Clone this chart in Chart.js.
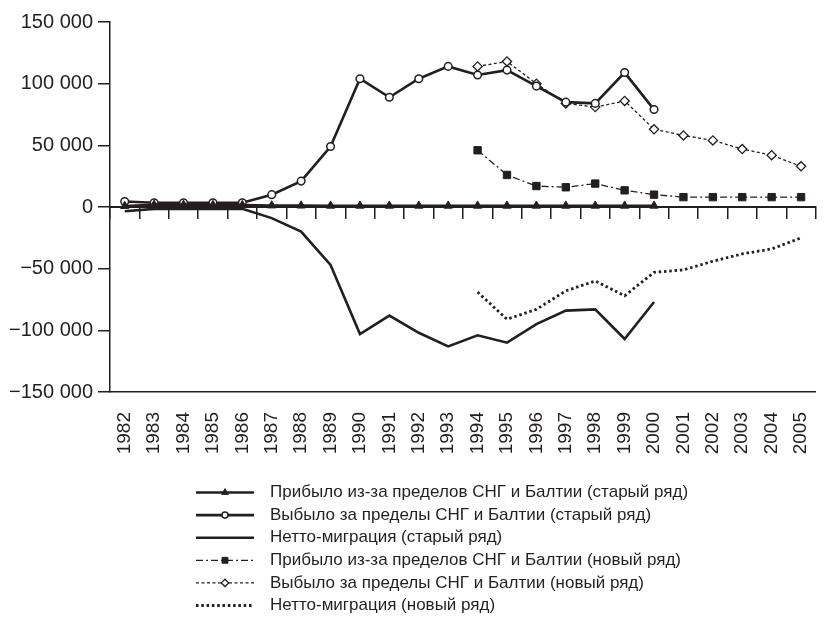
<!DOCTYPE html>
<html>
<head>
<meta charset="utf-8">
<script src="https://cdn.jsdelivr.net/npm/chart.js@4.4.1/dist/chart.umd.min.js"></script>
<style>
    body { margin: 0; background: #fff; }
    #wrap { width: 836px; height: 636px; }
</style>
</head>
<body>
<div id="wrap"><canvas id="migrationChart"></canvas></div>
<script>
const years = ['1982', '1983', '1984', '1985', '1986', '1987', '1988', '1989', '1990', '1991', '1992', '1993',
    '1994', '1995', '1996', '1997', '1998', '1999', '2000', '2001', '2002', '2003', '2004', '2005'];

// старый ряд: 1982-2000
const arrivedOld = [800, 1800, 1700, 1600, 1500, 1200, 1100, 1000, 1000, 1000, 1000, 1000,
    1000, 1000, 1000, 1000, 1000, 1000, 1000, null, null, null, null, null];
const leftOld = [4500, 3500, 3500, 3500, 3500, 10000, 21000, 49000, 104000, 89000, 104000, 114000,
    107000, 111000, 98000, 85000, 84000, 109000, 79000, null, null, null, null, null];
const netOld = [-3500, -1500, -1500, -1500, -1500, -9000, -20000, -47000, -103000, -88000, -102000, -113000,
    -104000, -110000, -95000, -84000, -83000, -107000, -77000, null, null, null, null, null];

// новый ряд: 1994-2005
const arrivedNew = [null, null, null, null, null, null, null, null, null, null, null, null,
    46000, 26000, 17000, 16000, 19000, 13500, 10000, 8000, 8000, 8000, 8000, 8000];
const leftNew = [null, null, null, null, null, null, null, null, null, null, null, null,
    114000, 118000, 100000, 84000, 81000, 86000, 63000, 58000, 54000, 47000, 42000, 33000];
const netNew = [null, null, null, null, null, null, null, null, null, null, null, null,
    -69000, -91000, -83000, -68000, -60000, -72000, -53000, -51000, -44000, -38000, -34000, -25000];

const yTicks = [-150000, -100000, -50000, 0, 50000, 100000, 150000];

const ink = '#231f20';
const font = 'Liberation Sans, Arial, sans-serif';

function formatTick(v) {
    if (v === 0) return '0';
    const s = String(Math.abs(v)).replace(/\B(?=(\d{3})+(?!\d))/g, ' ');
    return (v < 0 ? '\u2212' : '') + s;
}

// legend sits under the x labels, one entry per row
const sampleWidth = 58;
const legendSamples = {
    id: 'legendSamples',
    afterLayout(chart) {
        const legend = chart.legend;
        const pad = legend.options.labels.padding;
        legend.left = 196 - pad;
        legend.top = 484 - pad;
        legend.right = chart.width;
        legend.bottom = chart.height;
    },
    afterDraw(chart) {
        const ctx = chart.ctx;
        const legend = chart.legend;
        legend.legendHitBoxes.forEach((box, i) => {
            const ds = chart.data.datasets[legend.legendItems[i].datasetIndex];
            const y = box.top + box.height / 2;
            ctx.save();
            ctx.strokeStyle = ds.borderColor;
            ctx.lineWidth = ds.borderWidth;
            ctx.setLineDash(ds.borderDash || []);
            ctx.beginPath();
            ctx.moveTo(box.left, y);
            ctx.lineTo(box.left + sampleWidth, y);
            ctx.stroke();
            ctx.setLineDash([]);
            if (ds.pointRadius > 0) {
                ctx.fillStyle = ds.pointBackgroundColor;
                ctx.strokeStyle = ds.pointBorderColor;
                ctx.lineWidth = ds.pointBorderWidth;
                Chart.helpers.drawPoint(ctx, {
                    pointStyle: ds.pointStyle,
                    radius: ds.pointRadius * 0.8,
                    borderWidth: ds.pointBorderWidth,
                    rotation: 0
                }, box.left + sampleWidth / 2, y);
            }
            ctx.restore();
        });
    }
};

new Chart(document.getElementById('migrationChart'), {
    type: 'line',
    data: {
        labels: years,
        datasets: [{
            label: 'Прибыло из-за пределов СНГ и Балтии (старый ряд)',
            data: arrivedOld,
            borderColor: ink,
            borderWidth: 2.6,
            pointStyle: 'triangle',
            pointRadius: 4.8,
            pointBackgroundColor: ink,
            pointBorderColor: ink,
            pointBorderWidth: 1
        }, {
            label: 'Выбыло за пределы СНГ и Балтии (старый ряд)',
            data: leftOld,
            borderColor: ink,
            borderWidth: 2.6,
            pointStyle: 'circle',
            pointRadius: 3.8,
            pointBackgroundColor: '#fff',
            pointBorderColor: ink,
            pointBorderWidth: 1.5
        }, {
            label: 'Нетто-миграция (старый ряд)',
            data: netOld,
            borderColor: ink,
            borderWidth: 2.6,
            pointRadius: 0
        }, {
            label: 'Прибыло из-за пределов СНГ и Балтии (новый ряд)',
            data: arrivedNew,
            borderColor: ink,
            borderWidth: 1.3,
            borderDash: [7, 3, 2, 3],
            pointStyle: 'rect',
            pointRadius: 5.2,
            pointBackgroundColor: ink,
            pointBorderColor: ink,
            pointBorderWidth: 1
        }, {
            label: 'Выбыло за пределы СНГ и Балтии (новый ряд)',
            data: leftNew,
            borderColor: ink,
            borderWidth: 1.3,
            borderDash: [3, 2.5],
            pointStyle: 'rectRot',
            pointRadius: 4.6,
            pointBackgroundColor: '#fff',
            pointBorderColor: ink,
            pointBorderWidth: 1.3
        }, {
            label: 'Нетто-миграция (новый ряд)',
            data: netNew,
            borderColor: ink,
            borderWidth: 2.8,
            borderDash: [2.5, 2.8],
            pointRadius: 0
        }]
    },
    options: {
        responsive: true,
        maintainAspectRatio: false,
        animation: false,
        layout: {padding: {top: 22, right: 0, bottom: 156, left: 0}},
        scales: {
            x: {
                type: 'category',
                offset: true,
                grid: {display: false},
                border: {display: true, color: ink, width: 1.5},
                ticks: {
                    autoSkip: false,
                    minRotation: 90,
                    maxRotation: 90,
                    padding: 12,
                    color: ink,
                    font: {family: font, size: 19}
                },
                afterFit(scale) { scale.height = 88; }
            },
            x2: {
                type: 'category',
                position: {y: 0},
                offset: true,
                grid: {display: true, drawOnChartArea: false, drawTicks: true, tickLength: 11, offset: true, color: ink, lineWidth: 1.5},
                border: {display: true, color: ink, width: 2},
                ticks: {display: false}
            },
            y: {
                min: -150000,
                max: 150000,
                afterBuildTicks(scale) { scale.ticks = yTicks.map(v => ({value: v})); },
                grid: {drawOnChartArea: false, tickLength: 12, color: ink, lineWidth: 1.5},
                border: {display: true, color: ink, width: 1.5},
                ticks: {
                    padding: 5,
                    color: ink,
                    font: {family: font, size: 20},
                    callback: v => formatTick(v)
                },
                afterFit(scale) { scale.width = 110; }
            }
        },
        plugins: {
            legend: {
                position: 'chartArea',
                align: 'start',
                labels: {
                    boxWidth: 65.5,
                    boxHeight: 0,
                    padding: 5.6,
                    color: ink,
                    font: {family: font, size: 17},
                    generateLabels(chart) {
                        return Chart.defaults.plugins.legend.labels.generateLabels(chart).map(item => ({
                            ...item, lineWidth: 0, fillStyle: 'rgba(0,0,0,0)', strokeStyle: 'rgba(0,0,0,0)'
                        }));
                    }
                }
            },
            tooltip: {enabled: false}
        }
    },
    plugins: [legendSamples]
});
</script>
</body>
</html>
